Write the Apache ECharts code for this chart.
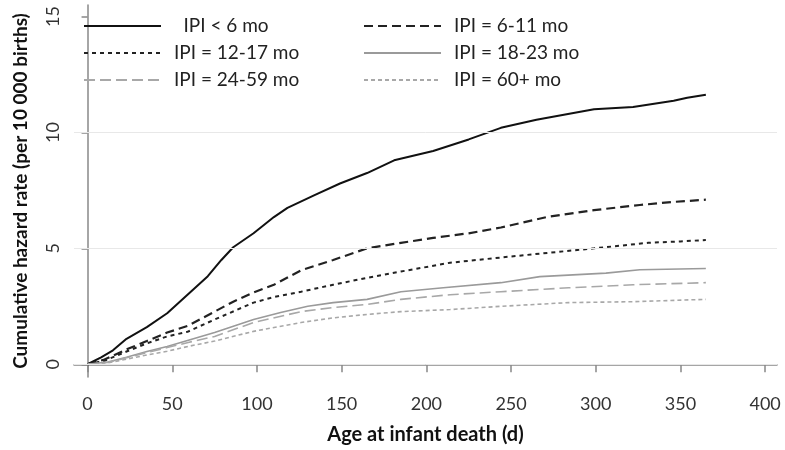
<!DOCTYPE html>
<html>
<head>
<meta charset="utf-8">
<script src="https://cdn.jsdelivr.net/npm/echarts@6/dist/echarts.min.js"></script>
<style>
  html, body { margin: 0; padding: 0; background: #fff; }
  #chart { width: 785px; height: 450px; }
</style>
</head>
<body>
<div id="chart"></div>
<script>
// series names
const seriesNames = ['IPI < 6 mo', 'IPI = 6-11 mo', 'IPI = 12-17 mo', 'IPI = 18-23 mo', 'IPI = 24-59 mo', 'IPI = 60+ mo'];

// [age in days, cumulative hazard per 10 000 births]
const ipiLt6 = [[0,0],[8,0.3],[15,0.6],[23,1.1],[35,1.6],[47,2.2],[59,3.0],[71,3.8],[79,4.5],[86,5.05],[98,5.65],[110,6.35],[118,6.75],[134,7.3],[149,7.8],[165,8.25],[181,8.8],[204,9.2],[225,9.7],[244,10.2],[265,10.55],[299,11.0],[322,11.1],[346,11.37],[354,11.5],[365,11.63]];
const ipi6to11 = [[0,0],[10,0.2],[23,0.64],[35,1.0],[47,1.37],[59,1.65],[75,2.27],[86,2.7],[98,3.1],[110,3.43],[126,4.05],[145,4.5],[165,5.0],[185,5.24],[204,5.45],[225,5.65],[244,5.9],[271,6.35],[299,6.65],[326,6.87],[345,7.0],[365,7.1]];
const ipi12to17 = [[0,0],[10,0.15],[23,0.55],[35,0.9],[47,1.2],[59,1.4],[75,1.93],[98,2.66],[110,2.9],[126,3.13],[145,3.43],[165,3.73],[185,4.0],[214,4.38],[250,4.65],[299,5.0],[331,5.24],[350,5.3],[365,5.36]];
const ipi18to23 = [[0,0],[12,0.1],[23,0.3],[35,0.55],[47,0.77],[60,1.05],[75,1.37],[98,1.93],[114,2.23],[130,2.5],[145,2.66],[165,2.8],[185,3.13],[210,3.3],[244,3.52],[267,3.78],[306,3.93],[326,4.08],[365,4.13]];
const ipi24to59 = [[0,0],[12,0.08],[23,0.28],[35,0.5],[47,0.72],[60,0.95],[75,1.2],[98,1.8],[126,2.27],[145,2.45],[165,2.58],[185,2.8],[214,3.0],[244,3.13],[284,3.3],[322,3.43],[365,3.52]];
const ipi60plus = [[0,0],[12,0.06],[23,0.22],[35,0.4],[47,0.56],[60,0.78],[75,1.0],[98,1.42],[126,1.8],[145,2.0],[165,2.15],[185,2.27],[214,2.36],[244,2.5],[284,2.66],[322,2.7],[365,2.8]];

// tick labels
const xTicks = [0, 50, 100, 150, 200, 250, 300, 350, 400];
const yTicks = [0, 5, 10, 15];
const yGrid = [0, 5, 10];

const font = 'Lato, "Open Sans", sans-serif';
const chart = echarts.init(document.getElementById('chart'));

function line(name, data, color, width, type) {
  return {
    name: name,
    type: 'line',
    data: data,
    symbol: 'none',
    smooth: false,
    lineStyle: { color: color, width: width, type: type },
    itemStyle: { color: color },
    z: 3
  };
}

const series = [
  line(seriesNames[0], ipiLt6, '#111', 2, 'solid'),
  line(seriesNames[1], ipi6to11, '#222', 2.2, [9, 5]),
  line(seriesNames[2], ipi12to17, '#222', 2, [4, 4]),
  line(seriesNames[3], ipi18to23, '#9a9a9a', 1.6, 'solid'),
  line(seriesNames[4], ipi24to59, '#a8a8a8', 1.6, [11, 5]),
  line(seriesNames[5], ipi60plus, '#a8a8a8', 1.6, [4, 3])
];

// light horizontal gridlines
series.push({
  type: 'line',
  data: [],
  silent: true,
  z: 1,
  markLine: {
    silent: true,
    symbol: 'none',
    label: { show: false },
    lineStyle: { color: '#e8e8e8', width: 1, type: 'solid' },
    data: yGrid.map(v => ({ yAxis: v }))
  }
});

const legendBase = {
  orient: 'vertical',
  top: 16,
  padding: 0,
  itemWidth: 77,
  itemHeight: 14,
  itemGap: 7,
  itemStyle: { opacity: 0 },
  formatter: n => (n === seriesNames[0] ? '\u2002' + n : n),
  textStyle: { fontFamily: font, fontSize: 19, lineHeight: 20, color: '#222', padding: [0, 0, 0, 8] },
  backgroundColor: 'transparent'
};

chart.setOption({
  animation: false,
  backgroundColor: '#fff',
  grid: { left: 74, top: 5, right: 8, bottom: 72 },
  legend: [
    Object.assign({}, legendBase, { left: 83, data: [seriesNames[0], seriesNames[2], seriesNames[4]] }),
    Object.assign({}, legendBase, { left: 363, data: [seriesNames[1], seriesNames[3], seriesNames[5]] })
  ],
  xAxis: {
    type: 'value',
    min: -8,
    max: 407,
    name: 'Age at infant death (d)',
    nameLocation: 'middle',
    nameGap: 48,
    nameTextStyle: { fontFamily: font, fontSize: 20, fontWeight: 'bold', color: '#111' },
    axisLine: { show: true, lineStyle: { color: '#888', width: 1.5 } },
    axisTick: { show: true, length: 8, customValues: xTicks, lineStyle: { color: '#888', width: 1.5 } },
    axisLabel: { customValues: xTicks, fontFamily: font, fontSize: 18, color: '#333', margin: 18 },
    splitLine: { show: false }
  },
  yAxis: {
    type: 'value',
    min: -0.55,
    max: 15.5,
    name: 'Cumulative hazard rate (per 10 000 births)',
    nameLocation: 'middle',
    nameGap: 44,
    nameTextStyle: { fontFamily: font, fontSize: 19, fontWeight: 'bold', color: '#111' },
    axisLine: { show: true, lineStyle: { color: '#888', width: 1.5 } },
    axisTick: { show: true, length: 6, customValues: yTicks, lineStyle: { color: '#888', width: 1.5 } },
    axisLabel: { customValues: yTicks, rotate: 90, fontFamily: font, fontSize: 18, color: '#333', margin: 12 },
    splitLine: { show: false }
  },
  series: series
});
</script>
</body>
</html>
